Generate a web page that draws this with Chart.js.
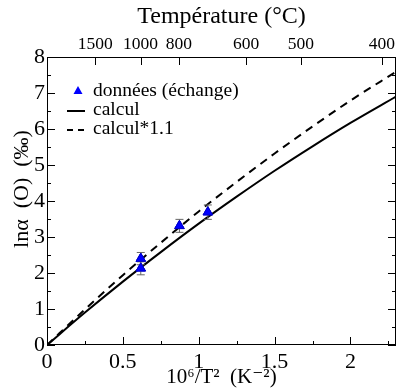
<!DOCTYPE html>
<html lang="fr">
<head>
<meta charset="UTF-8">
<title>ln alpha (O)</title>
<style>
  body { margin: 0; background: #fff; }
  .box { width: 399px; height: 390px; position: relative; }
</style>
</head>
<body>
<div class="box">
  <canvas id="grafico"></canvas>
</div>
<script src="https://cdn.jsdelivr.net/npm/chart.js@4.4.1/dist/chart.umd.min.js"></script>
<script>
// courbes calculées
const xCalc = [0, 0.25, 0.5, 0.75, 1, 1.25, 1.5, 1.75, 2, 2.3];
const yCalc = [0, 0.90, 1.76, 2.58, 3.37, 4.12, 4.84, 5.52, 6.17, 6.90];
const yCalc11 = [0, 0.99, 1.94, 2.84, 3.71, 4.53, 5.32, 6.07, 6.79, 7.59];

// données d'échange
const xData = [0.618, 0.618, 0.873, 1.06];
const yData = [2.40, 2.13, 3.31, 3.69];
const yErr = [0.17, 0.18, 0.18, 0.20];

// axe du haut
const tempLabels = [1500, 1000, 800, 600, 500, 400];

const fonte = "'Liberation Serif', 'DejaVu Serif', serif";

function toPts(xs, ys) {
    return xs.map((x, i) => ({ x: x, y: ys[i] }));
}

// barres d'erreur + ticks vers l'interieur + cadre + legende
const extras = {
    id: 'extras',
    afterDatasetsDraw(chart) {
        const ctx = chart.ctx;
        const sx = chart.scales.x, sy = chart.scales.y, st = chart.scales.xTop;
        const a = chart.chartArea;
        ctx.save();

        // barres d'erreur
        ctx.strokeStyle = '#666';
        ctx.lineWidth = 1;
        for (let i = 0; i < xData.length; i++) {
            let px = sx.getPixelForValue(xData[i]);
            let p1 = sy.getPixelForValue(yData[i] + yErr[i]);
            let p2 = sy.getPixelForValue(yData[i] - yErr[i]);
            ctx.beginPath();
            ctx.moveTo(px, p1); ctx.lineTo(px, p2);
            ctx.moveTo(px - 4, p1); ctx.lineTo(px + 4, p1);
            ctx.moveTo(px - 4, p2); ctx.lineTo(px + 4, p2);
            ctx.stroke();
        }
        // redessiner les triangles au-dessus
        chart.getDatasetMeta(0).controller.draw();

        // cadre
        ctx.strokeStyle = '#000';
        ctx.lineWidth = 1;
        ctx.strokeRect(a.left + 0.5, a.top + 0.5, a.right - a.left - 1, a.bottom - a.top - 1);

        // ticks
        ctx.beginPath();
        for (let v = 0; v <= 2.3 + 1e-9; v += 0.25) {
            let px = Math.round(sx.getPixelForValue(v)) + 0.5;
            let len = (Math.abs(v / 0.5 - Math.round(v / 0.5)) < 1e-6) ? 8 : 4;
            ctx.moveTo(px, a.bottom); ctx.lineTo(px, a.bottom - len);
        }
        for (let v = 0; v <= 8 + 1e-9; v += 0.5) {
            let py = Math.round(sy.getPixelForValue(v)) + 0.5;
            let len = (Math.abs(v - Math.round(v)) < 1e-6) ? 8 : 4;
            ctx.moveTo(a.left, py); ctx.lineTo(a.left + len, py);
            ctx.moveTo(a.right, py); ctx.lineTo(a.right - len, py);
        }
        st.ticks.forEach(t => {
            let px = Math.round(st.getPixelForValue(t.value)) + 0.5;
            ctx.moveTo(px, a.top); ctx.lineTo(px, a.top + 8);
        });
        ctx.stroke();

        // titre de l'axe y
        ctx.fillStyle = '#000';
        ctx.save();
        ctx.translate(22, 189);
        ctx.rotate(-Math.PI / 2);
        ctx.font = '22px ' + fonte;
        ctx.textAlign = 'center';
        ctx.textBaseline = 'middle';
        ctx.fillText('lnα  (O)  (‰)', 0, 0);
        ctx.restore();

        // legende
        ctx.font = '19.5px ' + fonte;
        ctx.textBaseline = 'middle';
        ctx.textAlign = 'left';
        ctx.fillStyle = '#0000ff';
        ctx.beginPath();
        ctx.moveTo(78, 86); ctx.lineTo(82.5, 94); ctx.lineTo(73.5, 94);
        ctx.closePath(); ctx.fill();
        ctx.fillStyle = '#000';
        ctx.fillText('données (échange)', 93, 91);

        ctx.lineWidth = 2;
        ctx.beginPath();
        ctx.moveTo(67, 111); ctx.lineTo(85, 111);
        ctx.stroke();
        ctx.fillText('calcul', 93, 110);

        ctx.setLineDash([6, 5]);
        ctx.beginPath();
        ctx.moveTo(67, 130); ctx.lineTo(86, 130);
        ctx.stroke();
        ctx.setLineDash([]);
        ctx.fillText('calcul*1.1', 93, 129);

        ctx.restore();
    }
};

const grafico = new Chart(document.getElementById('grafico'), {
    type: 'scatter',
    data: {
        datasets: [{
            label: 'données (échange)',
            data: toPts(xData, yData),
            pointStyle: 'triangle',
            pointRadius: 5.5,
            backgroundColor: '#0000ff',
            borderColor: '#0000cc',
            borderWidth: 1,
            order: 0
        }, {
            label: 'calcul',
            type: 'line',
            data: toPts(xCalc, yCalc),
            borderColor: '#000',
            borderWidth: 2,
            pointRadius: 0,
            cubicInterpolationMode: 'monotone',
            fill: false,
            order: 1
        }, {
            label: 'calcul*1.1',
            type: 'line',
            data: toPts(xCalc, yCalc11),
            borderColor: '#000',
            borderWidth: 2,
            borderDash: [8, 6],
            pointRadius: 0,
            cubicInterpolationMode: 'monotone',
            fill: false,
            order: 2
        }]
    },
    options: {
        responsive: true,
        maintainAspectRatio: false,
        animation: false,
        layout: { autoPadding: false, padding: { right: 3 } },
        plugins: {
            legend: { display: false },
            tooltip: { enabled: false }
        },
        scales: {
            x: {
                type: 'linear',
                position: 'bottom',
                min: 0,
                max: 2.3,
                grid: { display: false, drawTicks: false },
                border: { display: false },
                afterBuildTicks: s => { s.ticks = [0, 0.5, 1, 1.5, 2].map(v => ({ value: v })); },
                afterFit: s => { s.height = 45; s.paddingLeft = 0; s.paddingRight = 0; },
                ticks: {
                    color: '#000',
                    padding: 4,
                    maxRotation: 0,
                    font: { family: fonte, size: 22 },
                    callback: v => String(v)
                },
                title: {
                    display: true,
                    text: '10⁶/T²  (K⁻²)',
                    color: '#000',
                    padding: 0,
                    font: { family: fonte, size: 21 }
                }
            },
            xTop: {
                type: 'linear',
                position: 'top',
                min: 0,
                max: 2.3,
                grid: { display: false, drawTicks: false },
                border: { display: false },
                afterBuildTicks: s => {
                    s.ticks = tempLabels.map(t => ({ value: 1e6 / ((t + 273.15) * (t + 273.15)) }));
                },
                afterFit: s => { s.height = 57; s.paddingLeft = 0; s.paddingRight = 0; },
                ticks: {
                    color: '#000',
                    padding: 2,
                    maxRotation: 0,
                    autoSkip: false,
                    font: { family: fonte, size: 17.5 },
                    callback: (v, i) => String(tempLabels[i])
                },
                title: {
                    display: true,
                    text: 'Température (°C)',
                    color: '#000',
                    padding: { top: 2, bottom: 0 },
                    font: { family: fonte, size: 24 }
                }
            },
            y: {
                type: 'linear',
                min: 0,
                max: 8,
                grid: { display: false, drawTicks: false },
                border: { display: false },
                afterFit: s => { s.width = 47; },
                ticks: {
                    stepSize: 1,
                    color: '#000',
                    padding: 2,
                    font: { family: fonte, size: 22 }
                }
            }
        }
    },
    plugins: [extras]
});
</script>
</body>
</html>
